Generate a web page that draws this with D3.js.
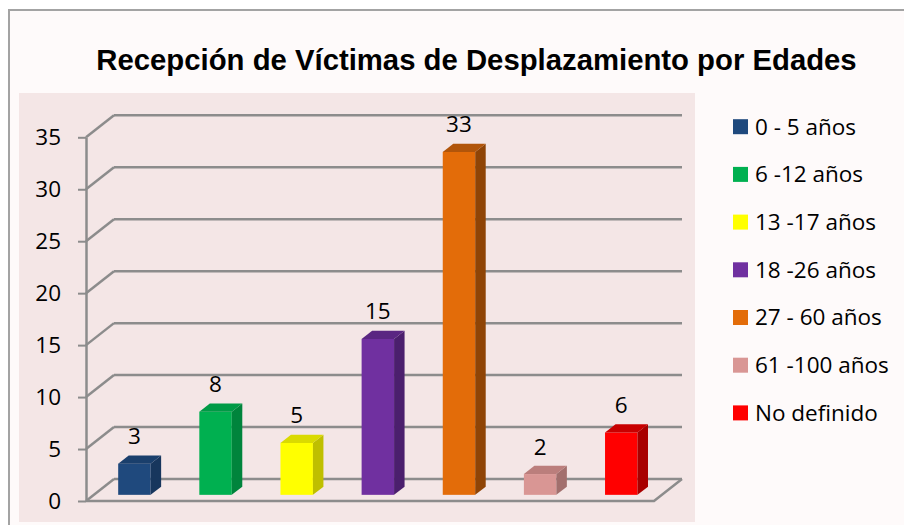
<!DOCTYPE html>
<html>
<head>
<meta charset="utf-8">
<script src="https://cdn.jsdelivr.net/npm/d3@7"></script>
<style>
  body { margin: 0; background: #fff; }
  svg { display: block; }
</style>
</head>
<body>
<svg id="chart" width="904" height="525"></svg>
<script>
// data
const categories = ["0 - 5 años", "6 -12 años", "13 -17 años", "18 -26 años", "27 - 60 años", "61 -100 años", "No definido"];
const values = [3, 8, 5, 15, 33, 2, 6];
const frontColors = ["#1F497D", "#00B050", "#FFFF00", "#7030A0", "#E36C09", "#D99694", "#FF0000"];
const sideColors  = ["#17365D", "#00843C", "#BFBF00", "#4B1F6D", "#8F4406", "#A26F6D", "#A80000"];
const topColors   = ["#1A3F6C", "#009A46", "#DADA00", "#5A2682", "#B1550A", "#BB7E7C", "#C80000"];
const yTicks = [0, 5, 10, 15, 20, 25, 30, 35];
const title = "Recepción de Víctimas de Desplazamiento por Edades";

const svg = d3.select("#chart");
const font = "'Open Sans', sans-serif";
const gridColor = "#8c8c8c";

// chart area + plot area
svg.append("rect")
  .attr("x", 9).attr("y", 10)
  .attr("width", 920).attr("height", 540)
  .attr("fill", "#FEFAFA")
  .attr("stroke", "#a3a3a3")
  .attr("stroke-width", 2);

svg.append("rect")
  .attr("x", 19).attr("y", 93)
  .attr("width", 676).attr("height", 429)
  .attr("fill", "#F4E6E6");

svg.append("text")
  .attr("x", 476.5).attr("y", 70)
  .attr("text-anchor", "middle")
  .style("font-family", "'Liberation Sans', Arial, sans-serif")
  .style("font-weight", "bold")
  .style("font-size", "29.3px")
  .style("fill", "#000")
  .text(title);

// scales
const axisX = 86;
const depth = { dx: 28, dy: 22 };   // back wall offset
const x = d3.scaleBand().domain(categories).range([axisX, 654]);
const y = d3.scaleLinear().domain([0, 35]).range([501, 137.3]);

// back wall grid + left wall diagonals
const grid = svg.append("g");
grid.selectAll("line.back")
  .data(yTicks)
  .join("line")
  .attr("class", "back")
  .attr("x1", axisX + depth.dx).attr("x2", 654 + depth.dx)
  .attr("y1", d => y(d) - depth.dy).attr("y2", d => y(d) - depth.dy)
  .attr("stroke", gridColor).attr("stroke-width", 2.5);
grid.selectAll("line.diag")
  .data(yTicks)
  .join("line")
  .attr("class", "diag")
  .attr("x1", axisX).attr("y1", d => y(d))
  .attr("x2", axisX + depth.dx).attr("y2", d => y(d) - depth.dy)
  .attr("stroke", gridColor).attr("stroke-width", 2.5);

// floor front + right edges
grid.append("path")
  .attr("d", `M${axisX},${y(0)}H654L${654 + depth.dx},${y(0) - depth.dy}`)
  .attr("fill", "none")
  .attr("stroke", gridColor).attr("stroke-width", 2.5);

// y axis
const yAxis = svg.append("g")
  .attr("transform", `translate(${axisX},0)`)
  .call(d3.axisLeft(y).tickValues(yTicks).tickSize(8).tickSizeOuter(0).tickPadding(17));
yAxis.select(".domain").attr("stroke", gridColor).attr("stroke-width", 2.5);
yAxis.selectAll(".tick line").attr("stroke", gridColor).attr("stroke-width", 2);
yAxis.selectAll(".tick text")
  .style("font-family", font).style("font-size", "22.5px").attr("fill", "#000");

// 3D bars
const barW = x.bandwidth() * 0.4;
const off = { dx: depth.dx * 0.28, dy: depth.dy * 0.28 }; // bar front position in depth
const bd = { dx: 10.5, dy: 8.2 };                         // bar depth
const bars = svg.append("g")
  .selectAll("g")
  .data(categories.map((c, i) => ({ c, v: values[i], i })))
  .join("g");

const x0 = d => x(d.c) + (x.bandwidth() - barW) / 2 + off.dx;
const yb = () => y(0) - off.dy;
const yt = d => y(d.v) - off.dy;

bars.append("rect")
  .attr("x", x0).attr("y", yt)
  .attr("width", barW).attr("height", d => yb() - yt(d))
  .attr("fill", d => frontColors[d.i]);
bars.append("path")
  .attr("d", d => {
    const xr = x0(d) + barW;
    return `M${xr},${yt(d)}L${xr + bd.dx},${yt(d) - bd.dy}L${xr + bd.dx},${yb() - bd.dy}L${xr},${yb()}Z`;
  })
  .attr("fill", d => sideColors[d.i]);
bars.append("path")
  .attr("d", d => {
    const xl = x0(d), t = yt(d);
    return `M${xl},${t}L${xl + barW},${t}L${xl + barW + bd.dx},${t - bd.dy}L${xl + bd.dx},${t - bd.dy}Z`;
  })
  .attr("fill", d => topColors[d.i]);

bars.append("text")
  .attr("x", d => x0(d) + barW / 2)
  .attr("y", d => yt(d) - 19.5)
  .attr("text-anchor", "middle")
  .style("font-family", font).style("font-size", "22.5px")
  .style("fill", "#000")
  .text(d => d.v);

// legend
const legend = svg.append("g")
  .selectAll("g")
  .data(categories)
  .join("g")
  .attr("transform", (d, i) => `translate(733,${126.7 + i * 47.7})`);
legend.append("rect")
  .attr("x", 0).attr("y", -7.5)
  .attr("width", 15).attr("height", 15)
  .attr("fill", (d, i) => frontColors[i]);
legend.append("text")
  .attr("x", 22).attr("y", 0)
  .attr("dy", "0.35em")
  .style("font-family", font).style("font-size", "22.5px")
  .style("fill", "#000")
  .text(d => d);
</script>
</body>
</html>
